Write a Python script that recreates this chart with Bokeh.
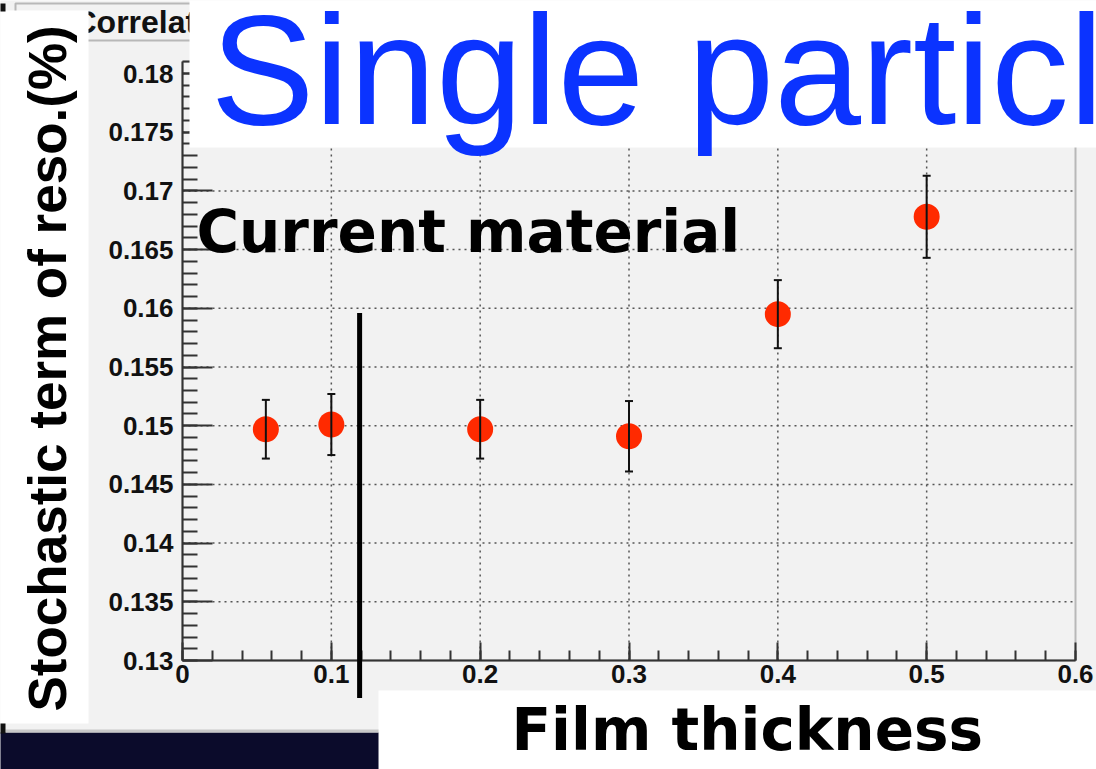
import math
from bokeh.plotting import figure
from bokeh.models import (ColumnDataSource, Whisker, TeeHead, BoxAnnotation, Label,
                          Arrow, FixedTicker, Range1d)
from bokeh.embed import file_html
from bokeh.resources import INLINE

# ---------------- data ----------------
thickness = [0.056, 0.1, 0.2, 0.3, 0.4, 0.5]
stoch_term = [0.1497, 0.1501, 0.1497, 0.1491, 0.1595, 0.1678]
stoch_err = [0.0025, 0.0026, 0.0025, 0.0030, 0.0029, 0.0035]

x_tick_vals = [0.0, 0.1, 0.2, 0.3, 0.4, 0.5, 0.6]
x_tick_labels = ["0", "0.1", "0.2", "0.3", "0.4", "0.5", "0.6"]
y_tick_vals = [0.13, 0.135, 0.14, 0.145, 0.15, 0.155, 0.16, 0.165, 0.17, 0.175, 0.18]
y_tick_labels = ["0.13", "0.135", "0.14", "0.145", "0.15", "0.155", "0.16",
                 "0.165", "0.17", "0.175", "0.18"]

title_text = "Single particle"
inner_text = "Current material"
x_label_text = "Film thickness"
y_label_text = "Stochastic term of reso.(%)"
root_title_text = "Correlation"

divider_x = 0.119
divider_top = 0.1596
divider_bottom = 0.1268

x_lo, x_hi = 0.0, 0.6
y_lo, y_hi = 0.13, 0.181

# ---------------- layout (pixel geometry of the picture) ----------------
W, H = 1096, 769
PX_X0, PX_X1 = 182.0, 1075.0      # pixel of x = 0 and x = 0.6
PX_Y0, PX_PER_Y = 660.0, 11740.0  # pixel of y = 0.13, pixels per unit
x_per_px = (x_hi - x_lo) / (PX_X1 - PX_X0)
x_start = x_lo - PX_X0 * x_per_px
x_end = x_hi + (W - PX_X1) * x_per_px
y_start = y_lo - (H - PX_Y0) / PX_PER_Y
y_end = y_lo + PX_Y0 / PX_PER_Y

BASE_FIX = 0.35  # baseline correction (fraction of font size)


def sx(X):
    return X


def sy(Y):
    return H - Y


p = figure(width=W, height=H, output_backend="svg", toolbar_location=None,
           title=None, x_range=Range1d(x_start, x_end), y_range=Range1d(y_start, y_end),
           min_border=0, min_border_left=0, min_border_right=0, min_border_top=0,
           min_border_bottom=0)
p.background_fill_color = "#f2f2f2"
p.border_fill_color = "#f2f2f2"
p.outline_line_color = None
p.xgrid.visible = False
p.ygrid.visible = False

minor_x = [round(0.02 * i, 3) for i in range(31)]
minor_y = [round(0.13 + 0.001 * i, 4) for i in range(52)]
p.xaxis.ticker = FixedTicker(ticks=x_tick_vals, minor_ticks=minor_x)
p.yaxis.ticker = FixedTicker(ticks=y_tick_vals, minor_ticks=minor_y)
p.xaxis.major_label_overrides = dict(zip(x_tick_vals, x_tick_labels))
p.yaxis.major_label_overrides = dict(zip(y_tick_vals, y_tick_labels))
p.xaxis.fixed_location = y_lo
p.yaxis.fixed_location = x_lo
p.xaxis.bounds = (x_lo, x_hi)
p.yaxis.bounds = (y_lo, y_hi)

for ax in (p.xaxis, p.yaxis):
    ax.axis_line_color = "#333333"
    ax.axis_line_width = 2
    ax.major_tick_line_color = "#333333"
    ax.minor_tick_line_color = "#333333"
    ax.major_tick_line_width = 2
    ax.minor_tick_line_width = 2
    ax.major_tick_out = 0
    ax.minor_tick_out = 0
    ax.major_label_text_font = "Liberation Sans"
    ax.major_label_text_font_style = "bold"
    ax.major_label_text_font_size = "26px"
    ax.major_label_text_color = "#111111"
p.xaxis.major_tick_in = 18
p.xaxis.minor_tick_in = 10
p.yaxis.major_tick_in = 30
p.yaxis.minor_tick_in = 15
p.xaxis.major_label_standoff = 4
p.yaxis.major_label_standoff = 9

# ROOT frame border
p.add_layout(BoxAnnotation(left=x_lo, right=x_hi, bottom=y_lo, top=y_hi,
                           fill_color=None, line_color="#333333", line_width=2,
                           level="underlay"))

# dotted grid inside the frame, at the major ticks
gx = x_tick_vals[1:-1]
gy = y_tick_vals[1:]
p.segment(x0=gx, x1=gx, y0=[y_lo] * len(gx), y1=[y_hi] * len(gx),
          line_color="#555555", line_dash="2 4", line_width=1.5)
p.segment(x0=[x_lo] * len(gy), x1=[x_hi] * len(gy), y0=gy, y1=gy,
          line_color="#555555", line_dash="2 4", line_width=1.5)

src = ColumnDataSource(dict(
    x=thickness, y=stoch_term,
    lo=[v - e for v, e in zip(stoch_term, stoch_err)],
    hi=[v + e for v, e in zip(stoch_term, stoch_err)],
))
wh = Whisker(source=src, base="x", upper="hi", lower="lo", dimension="height",
             line_color="#111111", line_width=2, level="glyph",
             upper_head=TeeHead(size=8, line_width=2, line_color="#111111"),
             lower_head=TeeHead(size=8, line_width=2, line_color="#111111"))
p.add_layout(wh)
p.scatter(x="x", y="y", source=src, size=26, marker="circle",
          fill_color="#ff2a00", line_color=None)

# divider line
p.add_layout(Arrow(end=None, x_start=divider_x, x_end=divider_x,
                   y_start=divider_top, y_end=divider_bottom,
                   line_color="black", line_width=5, level="overlay"))


def box(x0, x1, y0, y1, color="white", line=None):
    p.add_layout(BoxAnnotation(left=sx(x0), right=sx(x1), top=sy(y0), bottom=sy(y1),
                               left_units="screen", right_units="screen",
                               top_units="screen", bottom_units="screen",
                               fill_color=color, fill_alpha=1, line_color=line,
                               line_width=2, level="overlay"))


def text(X, Y, s, font, size, color="black", bold=False, angle=0.0):
    shift = BASE_FIX * size
    if angle:
        xs, ys = sx(X) - shift, sy(Y)
    else:
        xs, ys = sx(X), sy(Y) + shift
    p.add_layout(Label(x=xs, y=ys, x_units="screen", y_units="screen", text=s,
                       text_font=font, text_font_style="bold" if bold else "normal",
                       text_font_size=f"{size}px", text_color=color, angle=angle,
                       text_baseline="alphabetic", text_align="left",
                       level="overlay"))


# ROOT title pave (mostly hidden)
box(15, 320, 3, 40, color="#f2f2f2", line="#333333")
text(73, 33, root_title_text, "Liberation Sans", 32, color="#111111", bold=True)

box(189, 1110, -10, 147)
box(-10, 88, 10, 723)
box(378, 1110, 690, 780)
box(-10, 378, 732, 780, color="#0b0b2b")
box(5, 378, 729, 732, color="#c8c8c8")
box(-10, 5, 3, 11, color="#111111")
box(-10, 5, 723, 733, color="#111111")

text(210, 124, title_text, "Liberation Sans", 156, color="#0b33ff")
text(196, 252, inner_text, "DejaVu Sans", 58, bold=True)
text(511, 750, x_label_text, "DejaVu Sans", 58, bold=True)
text(66, 711, y_label_text, "Liberation Sans", 53, bold=True, angle=math.pi / 2)

open("out.html", "w").write(file_html(p, INLINE))
